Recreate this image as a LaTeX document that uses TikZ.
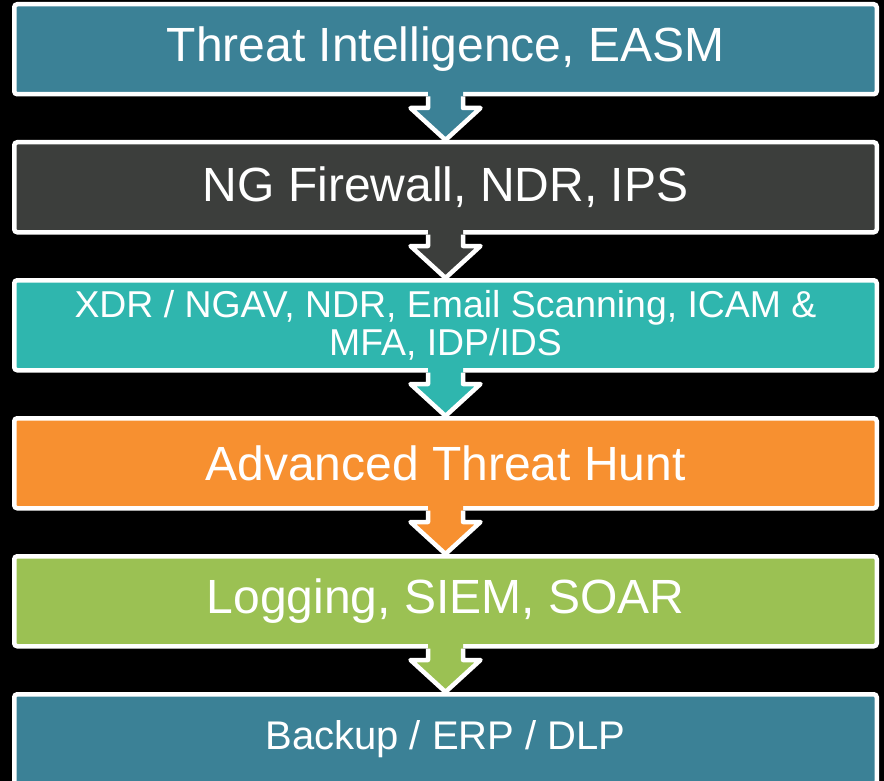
\documentclass[tikz,border=0pt]{standalone}
\usepackage{fontspec}
\setmainfont{Liberation Sans}
\usetikzlibrary{positioning,calc}
\definecolor{tiblue}{HTML}{3B8196}
\definecolor{fwgrey}{HTML}{3C3E3C}
\definecolor{xdrteal}{HTML}{2FB6AE}
\definecolor{huntorange}{HTML}{F79030}
\definecolor{loggreen}{HTML}{9BC153}
\begin{document}
\begin{tikzpicture}[
        x=1pt, y=1pt,
        node distance=43.5pt,
        layer/.style={draw=white, line width=4.5pt, rounded corners=3pt, minimum width=862.5pt, minimum height=90pt, inner sep=0pt, text=white, font=\fontsize{48}{55}\selectfont},
        layer_small/.style={font=\fontsize{37.4}{38}\selectfont, align=center},
        layer_base/.style={font=\fontsize{40}{46}\selectfont},
        freccia/.style={draw=white, line width=4.5pt, line join=round}
        ]
    \useasboundingbox (0,0) rectangle (884,-781);
    \fill[black] (0,0) rectangle (884,-781);
    \node[layer, fill=tiblue] (intel) at (445.5,-49.25) {Threat Intelligence, EASM};
    \node[layer, fill=fwgrey, below=of intel] (firewall) {NG Firewall, NDR, IPS};
    \node[layer, layer_small, fill=xdrteal, below=of firewall] (xdr) {XDR / NGAV, NDR, Email Scanning, ICAM \&\\MFA, IDP/IDS};
    \node[layer, fill=huntorange, below=of xdr] (hunt) {Advanced Threat Hunt};
    \node[layer, fill=loggreen, below=of hunt] (siem) {Logging, SIEM, SOAR};
    \node[layer, layer_base, fill=tiblue, below=of siem] (backup) {Backup / ERP / DLP};
    % frecce tra i livelli
    \foreach \a/\b/\c in {intel/firewall/tiblue, firewall/xdr/fwgrey, xdr/hunt/xdrteal, hunt/siem/huntorange, siem/backup/loggreen}{
        \fill[\c] ($(\a.south)+(-17.5,6)$) -- ($(\b.north)+(-17.5,32)$) -- ($(\b.north)+(-35,32)$) -- (\b.north)
            -- ($(\b.north)+(35,32)$) -- ($(\b.north)+(17.5,32)$) -- ($(\a.south)+(17.5,6)$) -- cycle;
        \draw[freccia] ($(\a.south)+(-17.5,0)$) -- ($(\b.north)+(-17.5,32)$) -- ($(\b.north)+(-35,32)$) -- (\b.north)
            -- ($(\b.north)+(35,32)$) -- ($(\b.north)+(17.5,32)$) -- ($(\a.south)+(17.5,0)$);
    }
\end{tikzpicture}
\end{document}
